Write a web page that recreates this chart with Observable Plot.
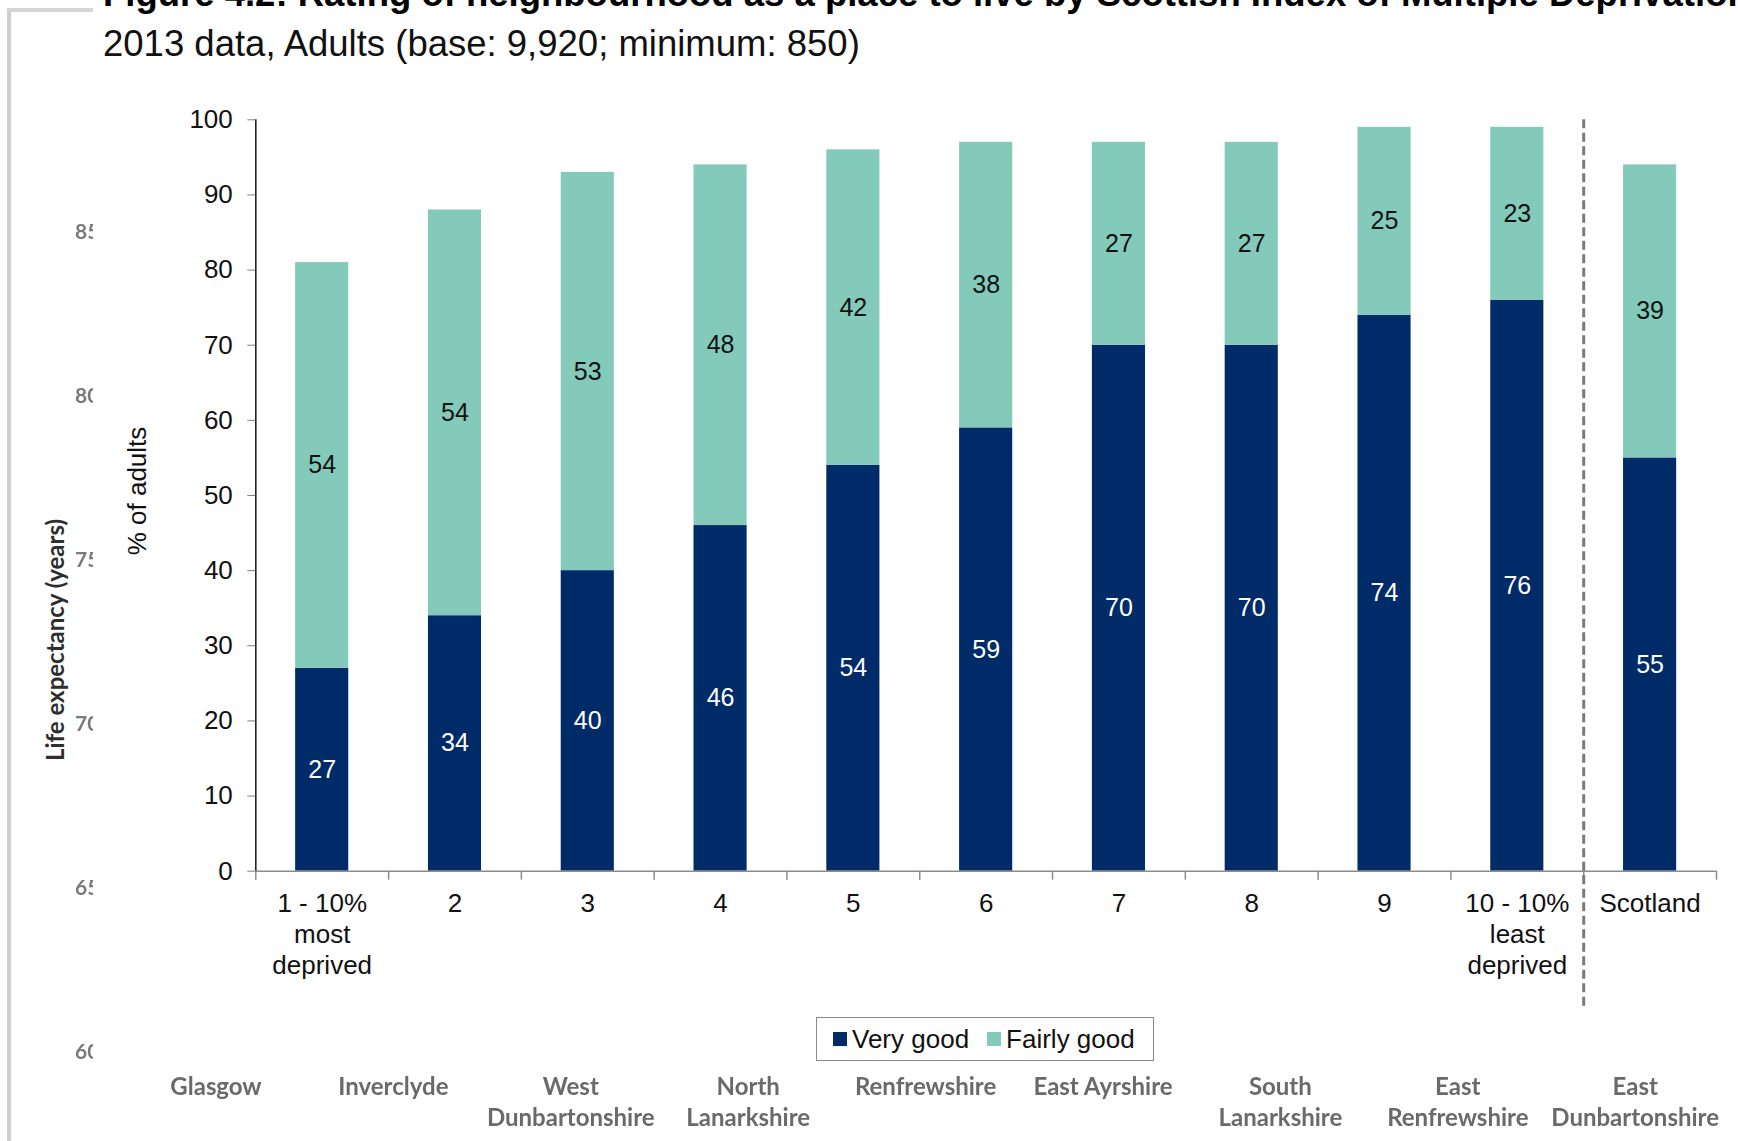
<!DOCTYPE html>
<html>
<head>
<meta charset="utf-8">
<script src="https://cdn.jsdelivr.net/npm/d3@7"></script>
<script src="https://cdn.jsdelivr.net/npm/@observablehq/plot@0.6"></script>
<style>
  html, body { margin: 0; padding: 0; background: #fff; }
  #root { position: relative; width: 1738px; height: 1141px; overflow: hidden; background: #fff;
          font-family: "Liberation Sans", Arial, sans-serif; color: #111; }
  #frameLine { position: absolute; left: 7px; top: 8px; width: 100px; height: 1200px;
               border-left: 4px solid #cfcfcf; border-top: 4px solid #d6d6d6; }
  #bgClip { position: absolute; left: 0; top: 0; width: 93px; height: 1141px; overflow: hidden; }
  .bgTick { position: absolute; left: 75px; font-family: Lato, "Open Sans", sans-serif; font-weight: 700;
            font-size: 21px; color: #7a7a7a; line-height: 24px; filter: blur(0.4px); }
  #bgLabel { position: absolute; left: -95px; top: 626px; width: 300px; height: 28px; line-height: 28px;
             text-align: center; transform: rotate(-90deg); font-family: Lato, "Open Sans", sans-serif;
             font-weight: 700; font-size: 24px; color: #2e2e2e; }
  #cover { position: absolute; left: 93px; top: 0; width: 1645px; height: 1068px; background: #fff; }
  #title { position: absolute; left: 103px; top: -24px; font-size: 36.5px; line-height: 36.5px;
           font-weight: bold; white-space: nowrap; color: #000; }
  #subtitle { position: absolute; left: 103px; top: 26px; font-size: 36.5px; line-height: 36.5px;
              white-space: nowrap; color: #111; }
  #ylabel { position: absolute; left: 37px; top: 476px; width: 200px; height: 30px; line-height: 30px;
            text-align: center; transform: rotate(-90deg); font-size: 26px; color: #111; }
  #chart { position: absolute; left: 0; top: 80px; }
  #legend { position: absolute; left: 816px; top: 1017px; width: 336px; height: 42px;
            border: 1.5px solid #8a8a8a; display: flex; align-items: center; font-size: 26px; }
  .sw { display: inline-block; width: 14px; height: 14px; margin-right: 5px; }
  .item { display: flex; align-items: center; }
  .council { position: absolute; width: 200px; text-align: center; white-space: pre-line;
             font-family: Lato, "Open Sans", sans-serif; font-weight: 700; font-size: 24px;
             line-height: 31px; color: #6a6a6a; filter: blur(0.35px); }
</style>
</head>
<body>
<div id="root">
  <div id="frameLine"></div>
  <div id="bgClip"><div id="bgLabel">Life expectancy (years)</div></div>
  <div id="cover"></div>
  <div id="title">Figure 4.2: Rating of neighbourhood as a place to live by Scottish Index of Multiple Deprivation</div>
  <div id="subtitle">2013 data, Adults (base: 9,920; minimum: 850)</div>
  <div id="ylabel">% of adults</div>
  <div id="chart"></div>
  <div id="legend"></div>
</div>
<script>
// ---- data ----
const categories = ["1 - 10%\nmost\ndeprived", "2", "3", "4", "5", "6", "7", "8", "9", "10 - 10%\nleast\ndeprived", "Scotland"];
const veryGood   = [27, 34, 40, 46, 54, 59, 70, 70, 74, 76, 55];
const fairlyGood = [54, 54, 53, 48, 42, 38, 27, 27, 25, 23, 39];
const seriesNames = ["Very good", "Fairly good"];
const seriesColors = ["#002b69", "#83cabb"];
const yTicks = [0, 10, 20, 30, 40, 50, 60, 70, 80, 90, 100];
const councils = ["Glasgow", "Inverclyde", "West\nDunbartonshire", "North\nLanarkshire", "Renfrewshire",
                  "East Ayrshire", "South\nLanarkshire", "East\nRenfrewshire", "East\nDunbartonshire"];
const bgTicks = ["85", "80", "75", "70", "65", "60"];

const rows = [
  ...categories.map((c, i) => ({cat: c, series: seriesNames[0], value: veryGood[i]})),
  ...categories.map((c, i) => ({cat: c, series: seriesNames[1], value: fairlyGood[i]}))
];

// ---- layout ----
const W = 1738, H = 960;
const mL = 255.3, mR = 22, mT = 39.3, mB = 169.3;
const step = (W - mL - mR) / categories.length;

const chart = Plot.plot({
  width: W, height: H,
  marginLeft: mL, marginRight: mR, marginTop: mT, marginBottom: mB,
  style: {fontFamily: '"Liberation Sans", Arial, sans-serif', fontSize: "26px", background: "transparent", overflow: "visible"},
  x: {type: "band", domain: categories, paddingInner: 0.6, paddingOuter: 0.3, round: false, label: null},
  y: {domain: [0, 100], label: null},
  color: {domain: seriesNames, range: seriesColors},
  marks: [
    Plot.barY(rows, {x: "cat", y: "value", fill: "series"}),
    Plot.text(rows, Plot.stackY({x: "cat", y: "value", z: "series",
      text: d => d.series === seriesNames[0] ? String(d.value) : "", fill: "white", fontSize: 25})),
    Plot.text(rows, Plot.stackY({x: "cat", y: "value", z: "series",
      text: d => d.series === seriesNames[1] ? String(d.value) : "", fill: "#111", fontSize: 25})),
    // x axis baseline
    Plot.ruleY([0], {stroke: "#8c8c8c", strokeWidth: 1.5}),
    // y axis line
    Plot.ruleX([categories[0]], {x: d => d, y1: 0, y2: 100, dx: -step / 2, stroke: "#222", strokeWidth: 1.6}),
    // category boundary ticks
    Plot.ruleX(categories, {x: d => d, y1: 0, y2: 0, insetBottom: -9, dx: -step / 2, stroke: "#8c8c8c", strokeWidth: 1.5}),
    Plot.ruleX([categories[categories.length - 1]], {x: d => d, y1: 0, y2: 0, insetBottom: -9, dx: step / 2, stroke: "#8c8c8c", strokeWidth: 1.5}),
    // dashed separator before Scotland
    Plot.ruleX([categories[categories.length - 1]], {x: d => d, y1: 100, y2: -18, dx: -step / 2,
      stroke: "#7a7a7a", strokeWidth: 3, strokeDasharray: "9,4.5"}),
    Plot.axisY({ticks: yTicks, tickSize: 8, tickPadding: 15, fontSize: 26, stroke: "#7f7f7f", fill: "#111", label: null}),
    Plot.axisX({tickSize: 0, tickPadding: 18, fontSize: 26, lineHeight: 1.21, fill: "#111", label: null})
  ]
});
document.getElementById("chart").appendChild(chart);

// legend
const legend = document.getElementById("legend");
seriesNames.forEach((s, i) => {
  const it = document.createElement("div");
  it.className = "item";
  it.style.marginLeft = i === 0 ? "16px" : "18px";
  const sw = document.createElement("span");
  sw.className = "sw";
  sw.style.background = seriesColors[i];
  const t = document.createElement("span");
  t.textContent = s;
  it.appendChild(sw); it.appendChild(t);
  legend.appendChild(it);
});

// background chart remnants
const root = document.getElementById("root");
councils.forEach((c, i) => {
  const d = document.createElement("div");
  d.className = "council";
  d.textContent = c;
  d.style.left = (216 + i * 177.4 - 100) + "px";
  d.style.top = "1070px";
  root.appendChild(d);
});
const clip = document.getElementById("bgClip");
bgTicks.forEach((t, i) => {
  const d = document.createElement("div");
  d.className = "bgTick";
  d.textContent = t;
  d.style.top = (230.5 + i * 164.1 - 12) + "px";
  clip.appendChild(d);
});
</script>
</body>
</html>
